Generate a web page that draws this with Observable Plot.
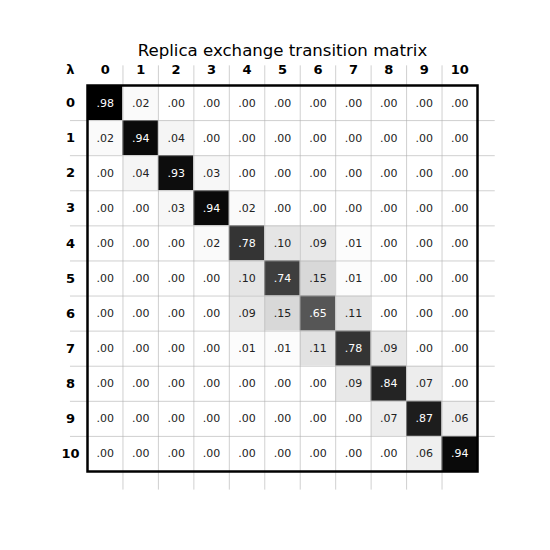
<!DOCTYPE html>
<html>
<head>
<meta charset="utf-8">
<script src="https://cdn.jsdelivr.net/npm/d3@7"></script>
<script src="https://cdn.jsdelivr.net/npm/@observablehq/plot@0.6"></script>
<style>
  body { margin: 0; background: white; }
</style>
</head>
<body>
<div id="chart"></div>
<script>
const title = "Replica exchange transition matrix";
const cornerLabel = "λ";
const states = [0, 1, 2, 3, 4, 5, 6, 7, 8, 9, 10];
const row0  = [0.98, 0.02, 0.00, 0.00, 0.00, 0.00, 0.00, 0.00, 0.00, 0.00, 0.00];
const row1  = [0.02, 0.94, 0.04, 0.00, 0.00, 0.00, 0.00, 0.00, 0.00, 0.00, 0.00];
const row2  = [0.00, 0.04, 0.93, 0.03, 0.00, 0.00, 0.00, 0.00, 0.00, 0.00, 0.00];
const row3  = [0.00, 0.00, 0.03, 0.94, 0.02, 0.00, 0.00, 0.00, 0.00, 0.00, 0.00];
const row4  = [0.00, 0.00, 0.00, 0.02, 0.78, 0.10, 0.09, 0.01, 0.00, 0.00, 0.00];
const row5  = [0.00, 0.00, 0.00, 0.00, 0.10, 0.74, 0.15, 0.01, 0.00, 0.00, 0.00];
const row6  = [0.00, 0.00, 0.00, 0.00, 0.09, 0.15, 0.65, 0.11, 0.00, 0.00, 0.00];
const row7  = [0.00, 0.00, 0.00, 0.00, 0.01, 0.01, 0.11, 0.78, 0.09, 0.00, 0.00];
const row8  = [0.00, 0.00, 0.00, 0.00, 0.00, 0.00, 0.00, 0.09, 0.84, 0.07, 0.00];
const row9  = [0.00, 0.00, 0.00, 0.00, 0.00, 0.00, 0.00, 0.00, 0.07, 0.87, 0.06];
const row10 = [0.00, 0.00, 0.00, 0.00, 0.00, 0.00, 0.00, 0.00, 0.00, 0.06, 0.94];
const rows = [row0, row1, row2, row3, row4, row5, row6, row7, row8, row9, row10];

const cells = [];
rows.forEach((r, i) => r.forEach((v, j) => cells.push({row: i, col: j, value: v})));
const fmt = v => d3.format(".2f")(v).replace(/^0\./, ".");
const vmax = d3.max(cells, d => d.value);
const inner = d3.range(1, states.length);

const chart = Plot.plot({
  width: 550,
  height: 550,
  marginLeft: 87,
  marginRight: 73,
  marginTop: 85,
  marginBottom: 79,
  style: {fontFamily: "DejaVu Sans, sans-serif", background: "white"},
  x: {domain: [0, states.length], axis: null},
  y: {domain: [0, states.length], reverse: true, axis: null},
  color: {type: "linear", domain: [0, vmax], range: ["white", "black"]},
  marks: [
    Plot.rect(cells, {x1: d => d.col, x2: d => d.col + 1, y1: d => d.row, y2: d => d.row + 1, fill: d => d.value}),
    Plot.ruleX(inner, {x: d => d, y1: -0.56, y2: states.length + 0.53, stroke: "#b0b0b0", strokeOpacity: 0.75, strokeWidth: 0.8}),
    Plot.ruleY(inner, {y: d => d, x1: -0.48, x2: states.length + 0.5, stroke: "#b0b0b0", strokeOpacity: 0.75, strokeWidth: 0.8}),
    Plot.text(cells, {x: d => d.col + 0.5, y: d => d.row + 0.5, text: d => fmt(d.value), fill: d => d.value > 0.5 ? "white" : "#222", fontSize: 11}),
    Plot.text(states, {x: d => d + 0.5, y: -0.45, text: d => String(d), fontSize: 13, fontWeight: "bold", fill: "black"}),
    Plot.text(states, {x: -0.48, y: d => d + 0.5, text: d => String(d), fontSize: 13, fontWeight: "bold", fill: "black"}),
    Plot.text([cornerLabel], {x: -0.48, y: -0.45, text: d => d, fontSize: 13, fontWeight: "bold", fill: "black"}),
    Plot.text([title], {x: states.length / 2, y: -0.99, text: d => d, fontSize: 16.6, fill: "black"}),
    Plot.frame({stroke: "black", strokeWidth: 2.5})
  ]
});
document.getElementById("chart").append(chart);
</script>
</body>
</html>
